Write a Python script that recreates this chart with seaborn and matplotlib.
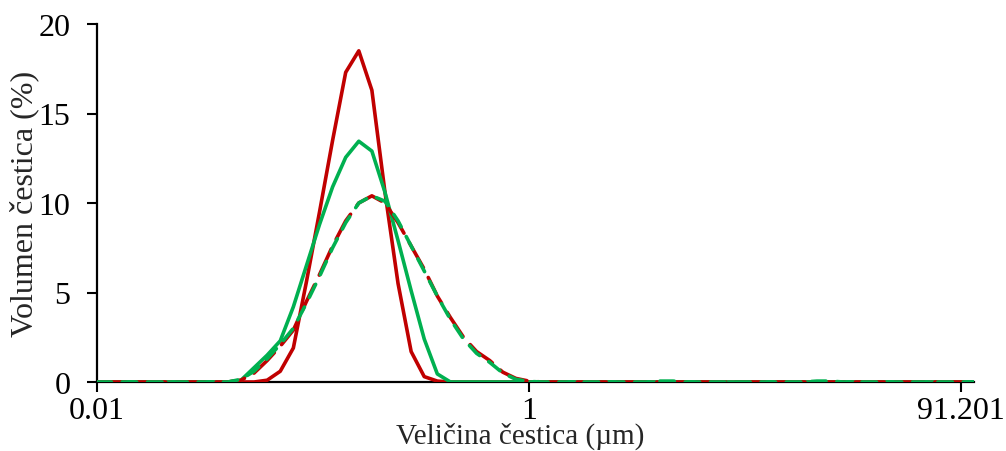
import numpy as np
import pandas as pd
import matplotlib
matplotlib.use("Agg")
import matplotlib.pyplot as plt
import seaborn as sns

# ---- data (category index 0..67 on a Mastersizer-like size axis) ----
tick_idx = [0, 33, 66]
tick_labels = ["0.01", "1", "91.201"]
n_points = 68

red_solid = [0]*13 + [0.1, 0.6, 1.9, 5.6, 9.5, 13.5, 17.3, 18.5, 16.3, 10.6, 5.5, 1.7, 0.3, 0.05] + [0]*41
green_solid = [0]*11 + [0.1, 0.8, 1.5, 2.3, 4.2, 6.5, 8.8, 10.9, 12.55, 13.45, 12.9, 10.6, 7.9, 5.1, 2.4, 0.45] + [0]*41
red_dashed = [0]*11 + [0.1, 0.5, 1.2, 2.0, 2.9, 4.5, 6.0, 7.6, 9.0, 10.0, 10.4, 10.0, 8.9, 7.6, 6.3, 4.8,
                       3.6, 2.5, 1.7, 1.2, 0.55, 0.2, 0.05] + [0]*34
green_dashed = [0]*11 + [0.15, 0.6, 1.3, 2.1, 3.0, 4.4, 5.9, 7.5, 8.9, 10.0, 10.4, 10.1, 9.0, 7.6, 6.2, 4.8,
                         3.5, 2.4, 1.6, 1.1, 0.5, 0.15, 0.03] + [0]*9 + [0.05, 0.05] + [0]*10 + [0.05, 0.05] + [0]*11

x_idx = np.arange(n_points)

sns.set_style("ticks")
plt.rcParams["font.family"] = ["Liberation Serif", "DejaVu Serif"]

fig = plt.figure(figsize=(10.06, 4.52), dpi=100)
ax = fig.add_axes([97/1006, 69/452, (974-97)/1006, 358/452])

RED = "#C00000"
GREEN = "#00B050"
lw = 2.6

series = [
    (red_solid, RED, "-"),
    (green_solid, GREEN, "-"),
    (red_dashed, RED, (0, (8, 3))),
    (green_dashed, GREEN, (0, (4, 3))),
]
for vals, col, ls in series:
    df = pd.DataFrame({"x": x_idx, "y": vals[:n_points]})
    sns.lineplot(data=df, x="x", y="y", ax=ax, color=col, linestyle=ls,
                 linewidth=lw, estimator=None, sort=False,
                 solid_capstyle="round", dash_capstyle="round", solid_joinstyle="round")

ax.set_xlim(0, n_points - 1)
ax.set_ylim(0, 20)
ax.set_yticks([0, 5, 10, 15, 20])
ax.set_xticks(tick_idx)
ax.set_xticklabels(tick_labels)

for s in ["top", "right"]:
    ax.spines[s].set_visible(False)
for s in ["left", "bottom"]:
    ax.spines[s].set_linewidth(1.6)
    ax.spines[s].set_color("black")
    ax.spines[s].set_zorder(0.5)

ax.tick_params(axis="y", direction="out", length=7, width=1.5, labelsize=23, pad=12, colors="black")
ax.tick_params(axis="x", direction="out", length=7, width=1.5, labelsize=23, pad=3, colors="black")

ax.set_xlabel("Veličina čestica (µm)", fontsize=21)
ax.set_ylabel("Volumen čestica (%)", fontsize=23)
ax.xaxis.set_label_coords(0.482, -0.112)
ax.yaxis.set_label_coords(-0.066, 0.5)

fig.savefig("out.png", dpi=100, facecolor="white")
